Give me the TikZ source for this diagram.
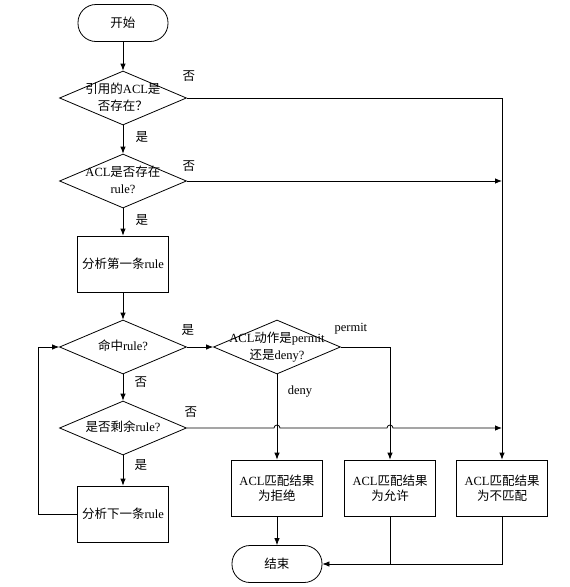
\documentclass[tikz,border=0pt]{standalone}
\usepackage{fontspec}
\setmainfont{Liberation Serif}
\newfontfamily\zh{Noto Sans CJK SC}
\usepackage{tikz}
\usetikzlibrary{shapes.geometric, arrows.meta, positioning, calc}

% text that may run over the edges of a diamond
\newcommand{\dtext}[1]{\smash{\raisebox{-0.25em}{\makebox[0pt]{\begin{tabular}{@{}c@{}}#1\end{tabular}}}}}

\begin{document}
\begin{tikzpicture}[node distance=83pt, every node/.style={font=\fontsize{12.5}{15}\selectfont}, align=center, line width=0.8pt]
    % Define styles for the blocks
    \tikzstyle{terminal} = [rectangle, rounded corners=18pt, minimum width=90pt, minimum height=37pt, draw=black]
    \tikzstyle{process} = [rectangle, minimum width=91pt, minimum height=56pt, draw=black]
    \tikzstyle{decision} = [diamond, minimum width=127pt, minimum height=54pt, inner sep=0pt, draw=black, font=\fontsize{12.5}{17}\selectfont]
    \tikzstyle{arrow} = [-{Latex[length=7pt,width=5.5pt]}]
    \tikzstyle{answer} = [inner sep=0pt]

    \useasboundingbox (-123pt,23pt) rectangle (447pt,-564pt);

    % Define nodes in the flowchart
    \node (start) [terminal] {{\zh 开始}};
    \node (refd) [decision, below of=start, yshift=8pt] {\dtext{{\zh 引用的}ACL{\zh 是}\\{\zh 否存在？}}};
    \node (ruled) [decision, below of=refd] {\dtext{ACL{\zh 是否存在}\\rule?}};
    \node (first) [process, below of=ruled] {{\zh 分析第一条}rule};
    \node (hit) [decision, below of=first] {\dtext{{\zh 命中}rule?}};
    \node (action) [decision, right of=hit, xshift=71pt] {\dtext{ACL{\zh 动作是}permit\\{\zh 还是}deny?}};
    \node (remain) [decision, below of=hit, yshift=2pt] {\dtext{{\zh 是否剩余}rule?}};
    \node (next) [process, below of=remain, yshift=-3pt] {{\zh 分析下一条}rule};
    \node (deny) [process, below of=action, yshift=-58pt] {ACL{\zh 匹配结果}\\{\zh 为拒绝}};
    \node (permit) [process, right of=deny, xshift=30pt] {ACL{\zh 匹配结果}\\{\zh 为允许}};
    \node (nomatch) [process, right of=permit, xshift=29pt] {ACL{\zh 匹配结果}\\{\zh 为不匹配}};
    \node (end) [terminal, below of=deny, yshift=7pt] {{\zh 结束}};
    \coordinate [left of=next, xshift=-2pt] (loop);

    % Draw arrows between the nodes
    \draw [arrow] (start) -- (refd);
    \draw [arrow] (refd) -- node[answer, xshift=19pt, yshift=2pt] {{\zh 是}} (ruled);
    \draw [arrow] (ruled) -- node[answer, xshift=19pt, yshift=2pt] {{\zh 是}} (first);
    \draw [arrow] (first) -- (hit);
    \draw [arrow] (hit) -- node[answer, xshift=18pt, yshift=5pt] {{\zh 否}} (remain);
    \draw [arrow] (remain) -- node[answer, xshift=18pt, yshift=5pt] {{\zh 是}} (next);
    \draw [arrow] (hit.east) -- node[answer, pos=0, xshift=1pt, yshift=17pt] {{\zh 是}} (action.west);

    % No branches to the right
    \draw [arrow] (refd.east) -- node[answer, pos=0, xshift=2pt, yshift=22pt] {{\zh 否}} (refd.east -| nomatch.north) -- (nomatch.north);
    \draw [arrow] (ruled.east) -- node[answer, pos=0, xshift=2pt, yshift=15pt] {{\zh 否}} (ruled.east -| nomatch.north);
    \draw [arrow] (remain.east) -- node[answer, pos=0, xshift=4pt, yshift=16pt] {{\zh 否}} ($(remain.east -| deny.north)+(-3pt,0)$) arc (180:0:3pt) -- ($(remain.east -| permit.north)+(-3pt,0)$) arc (180:0:3pt) -- (remain.east -| nomatch.north);

    % Action arrows
    \draw [arrow] (action) -- node[answer, pos=0, xshift=23pt, yshift=-17pt] {deny} (deny);
    \draw [arrow] (action.east) -- node[answer, pos=0, xshift=10pt, yshift=18pt] {permit} (action.east -| permit.north) -- (permit.north);

    % Looping arrow from next rule back to hit
    \draw [arrow] (next.west) -- (loop) |- (hit.west);

    % Results to end
    \draw [arrow] (deny) -- (end);
    \draw (permit.south) -- (permit.south |- end.east);
    \draw [arrow] (nomatch.south) |- (end.east);

\end{tikzpicture}
\end{document}
